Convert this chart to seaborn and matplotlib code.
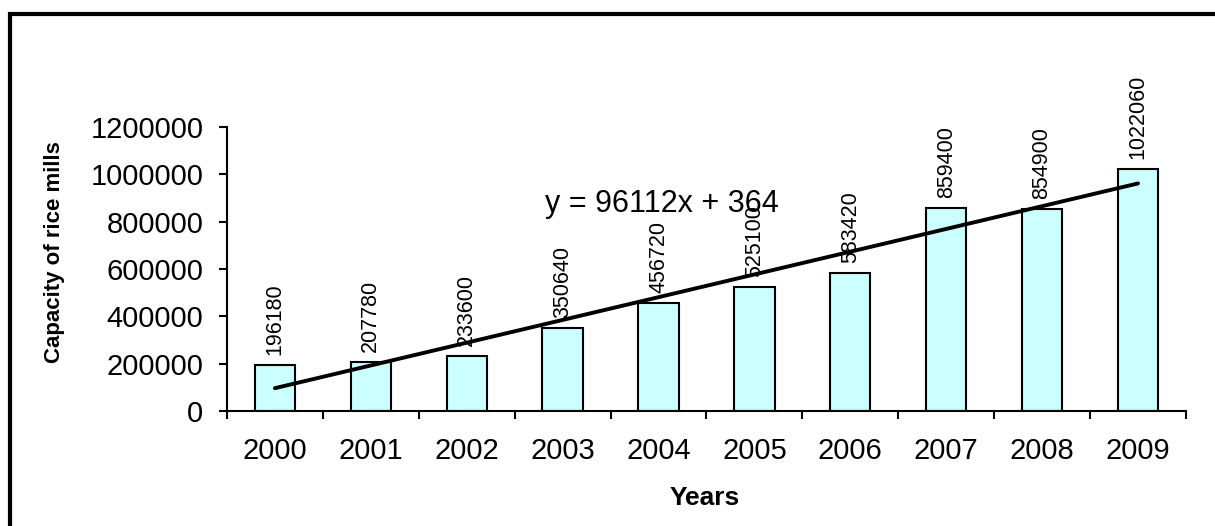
import seaborn as sns
import numpy as np
import matplotlib.pyplot as plt
import matplotlib.patches as patches
import pandas as pd

#Capacity of rice mills by year
years = ["2000", "2001", "2002", "2003", "2004", "2005", "2006", "2007", "2008", "2009"]
capacity = [196180, 207780, 233600, 350640, 456720, 525100, 583420, 859400, 854900, 1022060]
y_ticks = [0, 200000, 400000, 600000, 800000, 1000000, 1200000]

df = pd.DataFrame({"Years": years, "Capacity": capacity})

sns.set_style("white")
plt.rcParams["font.family"] = ["Liberation Sans", "DejaVu Sans"]
plt.rcParams["text.color"] = "black"
plt.rcParams["axes.labelcolor"] = "black"
plt.rcParams["xtick.color"] = "black"
plt.rcParams["ytick.color"] = "black"

fig = plt.figure(figsize=(12.15, 5.26), dpi=100)
ax = fig.add_axes([0.1868, 0.2186, 0.7893, 0.54])

#Draw the bars
sns.barplot(data=df, x="Years", y="Capacity", color="#CCFFFF", saturation=1,
            edgecolor="black", linewidth=1.5, width=0.42, ax=ax)

#Linear trend line (x = 1..10 like the spreadsheet)
xs = np.arange(1, len(years) + 1)
slope, intercept = np.polyfit(xs, capacity, 1)
trend = slope * xs + intercept
sns.lineplot(x=np.arange(len(years)), y=trend, color="black", linewidth=2.8, ax=ax)
ax.text(2.82, 841000, "y = %dx + %d" % (round(slope), round(intercept)),
        fontsize=22, ha="left", va="baseline")

#Value labels above the bars
for i, v in enumerate(capacity):
    ax.annotate(str(v), (i, v), xytext=(0, 7), textcoords="offset points",
                rotation=90, ha="center", va="bottom", fontsize=15.5)

#Axes styling
ax.set_xlim(-0.5, len(years) - 0.5)
ax.set_ylim(0, 1200000)
ax.set_yticks(y_ticks)
ax.set_yticklabels([str(t) for t in y_ticks])
ax.set_xticks(np.arange(len(years)))
ax.set_xticks(np.arange(-0.5, len(years)), minor=True)
ax.tick_params(axis="x", which="major", length=0, pad=19, labelsize=21)
ax.tick_params(axis="x", which="minor", length=6, width=1.5, direction="out", color="black", bottom=True)
ax.tick_params(axis="y", length=6, width=1.5, direction="out", color="black", pad=11, labelsize=21, left=True)
for s in ["top", "right"]:
    ax.spines[s].set_visible(False)
for s in ["left", "bottom"]:
    ax.spines[s].set_color("black")
    ax.spines[s].set_linewidth(1.5)

ax.set_xlabel("Years", fontsize=19, fontweight="bold")
ax.set_ylabel("Capacity of rice mills", fontsize=16, fontweight="bold")
ax.xaxis.set_label_coords(0.498, -0.265)
ax.yaxis.set_label_coords(-0.169, 0.56)

#Chart border
fig.patches.append(patches.Rectangle((9.5 / 1215, -0.1), 1.2, 1.1 - 14 / 526,
                                     transform=fig.transFigure, fill=False,
                                     edgecolor="black", linewidth=3))

fig.savefig("out.png", dpi=100)
